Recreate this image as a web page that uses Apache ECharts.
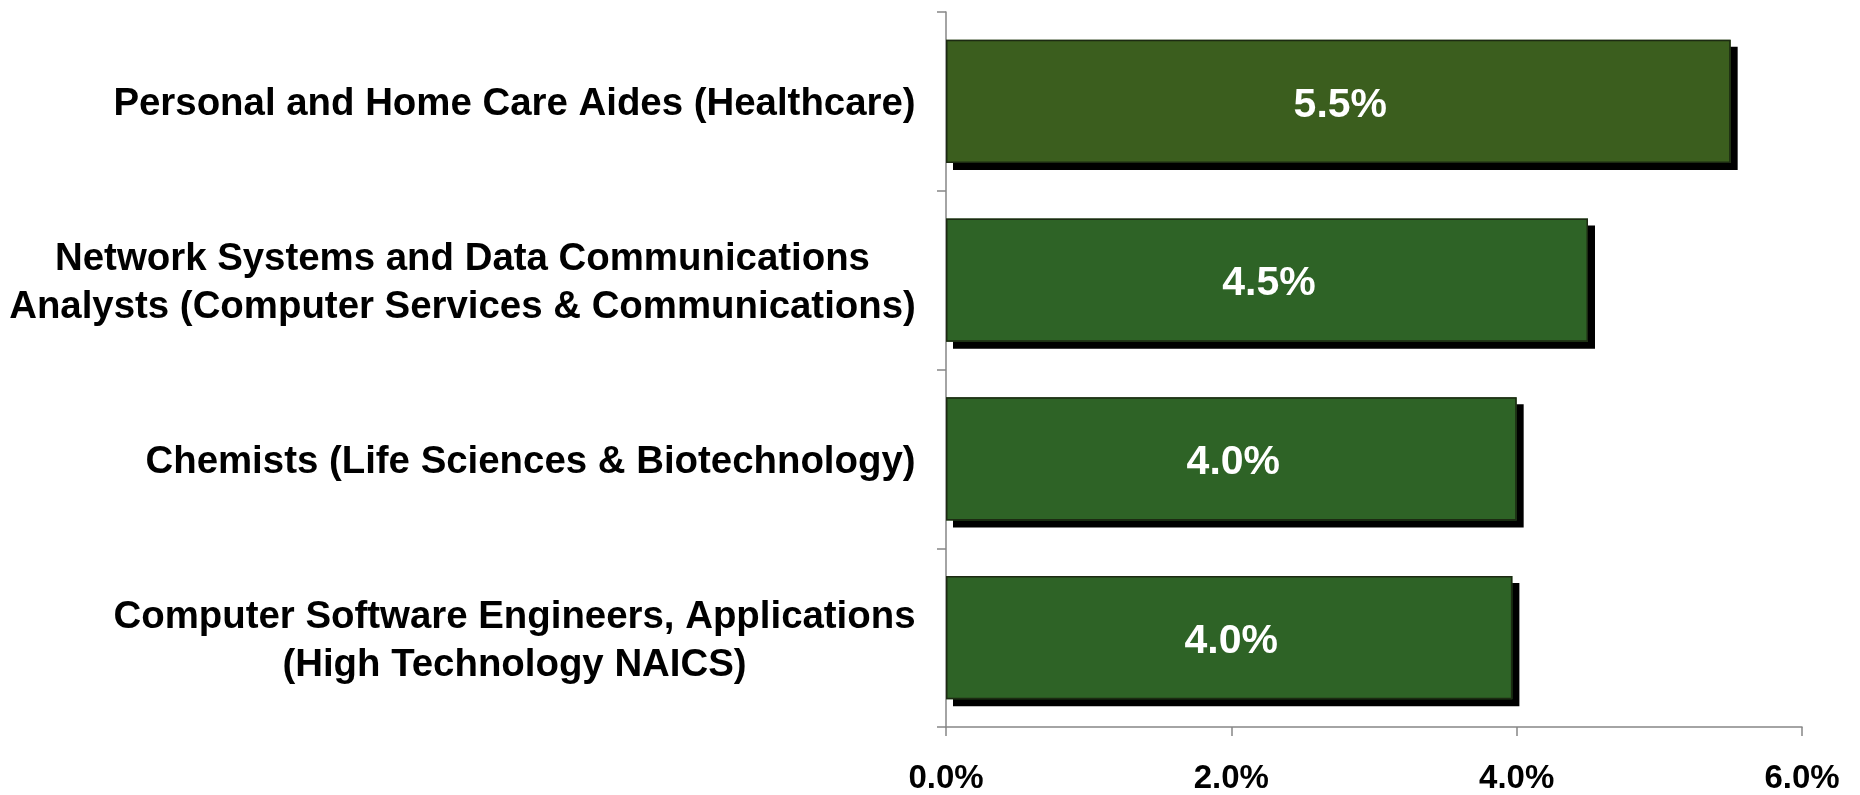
<!DOCTYPE html>
<html>
<head>
<meta charset="utf-8">
<style>
  html, body { margin: 0; padding: 0; background: #fff; }
  #chart { width: 1860px; height: 795px; }
</style>
<script src="https://cdn.jsdelivr.net/npm/echarts@6/dist/echarts.min.js"></script>
</head>
<body>
<div id="chart"></div>
<script>
// occupations, top to bottom
const categories = [
  'Personal and Home Care Aides (Healthcare)',
  'Network Systems and Data Communications\nAnalysts (Computer Services & Communications)',
  'Chemists (Life Sciences & Biotechnology)',
  'Computer Software Engineers, Applications\n(High Technology NAICS)'
]
// annual growth, percent
const growth = [5.5, 4.5, 4.0, 3.97]
const axisTicks = [0, 2, 4, 6]

const font = '"Liberation Sans", Arial, sans-serif'
const catSize = 38.4

// lines of a category label are centred on each other, the block is right aligned
const ctx = document.createElement('canvas').getContext('2d')
ctx.font = 'bold ' + catSize + 'px ' + font
const rich = {}
categories.forEach((c, i) => {
  const w = Math.max(...c.split('\n').map(l => ctx.measureText(l).width))
  rich['c' + i] = {
    width: Math.ceil(w),
    align: 'center',
    fontFamily: font,
    fontWeight: 'bold',
    fontSize: catSize,
    lineHeight: 48,
    color: '#000'
  }
})

const chart = echarts.init(document.getElementById('chart'))
chart.setOption({
  animation: false,
  grid: {
    left: 946,
    right: 58,
    top: 12,
    bottom: 63,
    containLabel: false
  },
  xAxis: {
    type: 'value',
    min: axisTicks[0],
    max: axisTicks[axisTicks.length - 1],
    interval: 2,
    splitLine: { show: false },
    axisLine: { show: true, lineStyle: { color: '#868686', width: 1.5 } },
    axisTick: { show: true, length: 9, lineStyle: { color: '#868686', width: 1.5 } },
    axisLabel: {
      margin: 35,
      color: '#000',
      fontFamily: font,
      fontWeight: 'bold',
      fontSize: 33,
      formatter: (v) => v.toFixed(1) + '%'
    }
  },
  yAxis: {
    type: 'category',
    inverse: true,
    data: categories,
    axisLine: { show: true, lineStyle: { color: '#868686', width: 1.5 } },
    axisTick: { show: true, length: 9, lineStyle: { color: '#868686', width: 1.5 } },
    axisLabel: {
      margin: 30,
      align: 'right',
      padding: [7, 0, 0, 0],
      formatter: (v, i) => v.split('\n').map(l => '{c' + i + '|' + l + '}').join('\n'),
      rich: rich
    }
  },
  series: [{
    // filled bars with the drop shadow
    type: 'bar',
    data: growth,
    barCategoryGap: '31%',
    barGap: '-100%',
    itemStyle: {
      color: (p) => p.dataIndex === 0 ? '#3b5e1e' : '#2e6326',
      borderWidth: 0,
      shadowColor: '#000',
      shadowBlur: 0,
      shadowOffsetX: 7,
      shadowOffsetY: 7
    }
  }, {
    // outline and value labels, drawn on top without shadow
    type: 'bar',
    data: growth,
    barCategoryGap: '31%',
    barGap: '-100%',
    silent: true,
    itemStyle: {
      color: 'rgba(0,0,0,0)',
      borderColor: '#1c2a12',
      borderWidth: 1.5
    },
    label: {
      show: true,
      position: 'inside',
      offset: [2, 4],
      color: '#fff',
      fontFamily: font,
      fontWeight: 'bold',
      fontSize: 41,
      formatter: (p) => p.value.toFixed(1) + '%'
    }
  }]
})
</script>
</body>
</html>
